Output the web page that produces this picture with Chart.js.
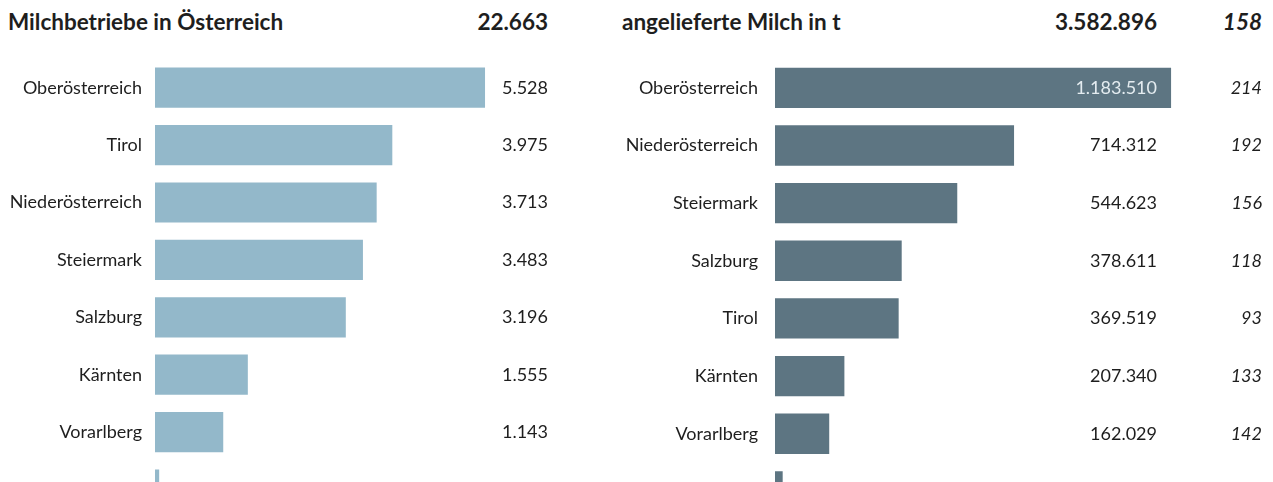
<!DOCTYPE html>
<html>
<head>
<meta charset="utf-8">
<script src="https://cdn.jsdelivr.net/npm/chart.js@4.4.0/dist/chart.umd.min.js"></script>
<style>
  html, body { margin: 0; padding: 0; background: #ffffff; }
  body { width: 1273px; height: 482px; overflow: hidden; position: relative; font-family: Lato, sans-serif; color: #1e1e1e; }
  canvas { position: absolute; top: 0; }
  .head { position: absolute; top: 7px; font-size: 22.5px; font-weight: 700; line-height: 30px; white-space: nowrap; }
  .num { text-align: right; }
</style>
</head>
<body>
<div class="head" style="left:8px">Milchbetriebe in Österreich</div>
<div class="head num" id="totBetriebe" style="right:725px"></div>
<div class="head" style="left:622px">angelieferte Milch in t</div>
<div class="head num" id="totMilch" style="right:116px"></div>
<div class="head num" id="totSchnitt" style="right:11px;font-style:italic"></div>

<canvas id="links" width="600" height="542" style="left:0"></canvas>
<canvas id="rechts" width="673" height="548" style="left:600px"></canvas>

<script>
// Werte
const laenderBetriebe = ['Oberösterreich','Tirol','Niederösterreich','Steiermark','Salzburg','Kärnten','Vorarlberg','Burgenland'];
const betriebe = [5528, 3975, 3713, 3483, 3196, 1555, 1143, 70];
const laenderMilch = ['Oberösterreich','Niederösterreich','Steiermark','Salzburg','Tirol','Kärnten','Vorarlberg','Burgenland'];
const milch = [1183510, 714312, 544623, 378611, 369519, 207340, 162029, 22952];
const tonnenJeBetrieb = [214, 192, 156, 118, 93, 133, 142, 328];
const summeBetriebe = 22663;
const summeMilch = 3582896;
const schnitt = 158;

const punkt = n => String(n).replace(/\B(?=(\d{3})+(?!\d))/g, '.');

document.getElementById('totBetriebe').textContent = punkt(summeBetriebe);
document.getElementById('totMilch').textContent = punkt(summeMilch);
document.getElementById('totSchnitt').textContent = schnitt;

// zahlen neben den balken
const zahlenPlugin = {
  id: 'zahlen',
  afterDatasetsDraw(chart, args, opts) {
    const ctx = chart.ctx;
    const meta = chart.getDatasetMeta(0);
    ctx.save();
    ctx.textBaseline = 'middle';
    ctx.textAlign = 'right';
    meta.data.forEach((bar, i) => {
      const wert = chart.data.datasets[0].data[i];
      ctx.font = '18px Lato';
      ctx.fillStyle = (opts.innen && i === 0) ? '#e4ecf0' : '#1e1e1e';
      ctx.fillText(punkt(wert), opts.x, bar.y);
      if (opts.extra) {
        ctx.font = 'italic 18px Lato';
        ctx.fillStyle = '#1e1e1e';
        ctx.fillText(opts.extra[i], opts.extraX, bar.y);
      }
    });
    ctx.restore();
  }
};

function balken(id, labels, daten, farbe, max, yBreite, tickPad, rechtsPad, plug) {
  return new Chart(document.getElementById(id), {
    type: 'bar',
    data: { labels: labels, datasets: [{ data: daten, backgroundColor: farbe, barPercentage: 0.7, categoryPercentage: 1 }] },
    options: {
      indexAxis: 'y',
      responsive: false,
      animation: false,
      layout: { padding: { top: 59, bottom: 11, left: 0, right: rechtsPad } },
      plugins: { legend: { display: false }, tooltip: { enabled: false }, zahlen: plug },
      scales: {
        x: { display: false, min: 0, max: max },
        y: {
          afterFit: s => { s.width = yBreite; },
          grid: { display: false, drawTicks: false },
          border: { display: false },
          ticks: { color: '#1e1e1e', font: { family: 'Lato', size: 18 }, padding: tickPad }
        }
      }
    },
    plugins: [zahlenPlugin]
  });
}

balken('links', laenderBetriebe, betriebe, '#93b8ca', 6700, 155, 13, 45, { x: 548 });
balken('rechts', laenderMilch, milch, '#5d7582', 1255000, 175, 17, 78,
  { x: 557, innen: true, extra: tonnenJeBetrieb, extraX: 662 });
</script>
</body>
</html>
